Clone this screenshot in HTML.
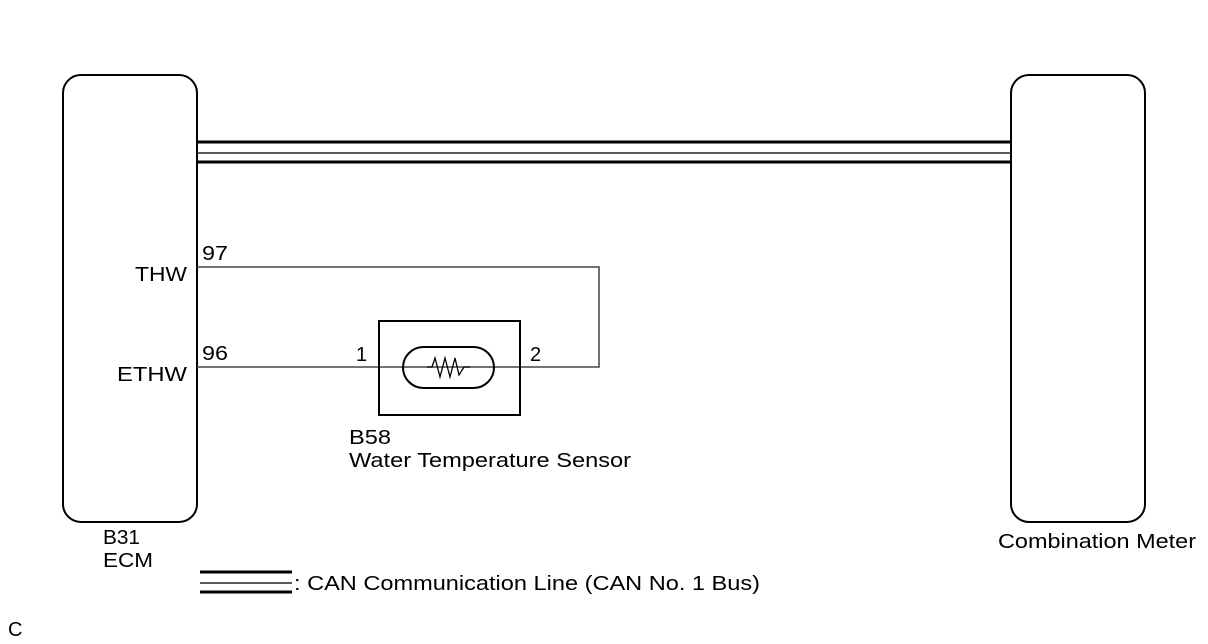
<!DOCTYPE html>
<html><head><style>
body{margin:0;background:#fff;}
svg{display:block;font-family:"Liberation Sans",sans-serif;}
</style></head><body>
<svg width="1208" height="644" viewBox="0 0 1208 644" xmlns="http://www.w3.org/2000/svg">
<rect x="63" y="75" width="134" height="447" rx="18" fill="none" stroke="#000" stroke-width="2"/>
<rect x="1011" y="75" width="134" height="447" rx="18" fill="none" stroke="#000" stroke-width="2"/>
<line x1="197" y1="142" x2="1011" y2="142" stroke="#000" stroke-width="3"/>
<line x1="197" y1="153" x2="1011" y2="153" stroke="#222" stroke-width="1.6"/>
<line x1="197" y1="162" x2="1011" y2="162" stroke="#000" stroke-width="3"/>
<polyline points="197,267 599,267 599,367 520,367" fill="none" stroke="#444" stroke-width="1.5"/>
<line x1="197" y1="367" x2="520" y2="367" stroke="#444" stroke-width="1.5"/>
<rect x="379" y="321" width="141" height="94" fill="none" stroke="#000" stroke-width="2"/>
<rect x="403" y="347" width="91" height="41" rx="20.5" fill="none" stroke="#000" stroke-width="2"/>
<polyline points="427,367 432,367 435,358 440,377 445,358 450,377 455,358 459,375 464,367 470,367" fill="none" stroke="#000" stroke-width="1.3"/>
<g font-size="20" fill="#000" lengthAdjust="spacingAndGlyphs">
<text x="202" y="260" textLength="26" lengthAdjust="spacingAndGlyphs">97</text>
<text x="202" y="360" textLength="26" lengthAdjust="spacingAndGlyphs">96</text>
<text x="135" y="281" textLength="52" lengthAdjust="spacingAndGlyphs">THW</text>
<text x="117" y="381" textLength="70" lengthAdjust="spacingAndGlyphs">ETHW</text>
<text x="356" y="361">1</text>
<text x="530" y="361">2</text>
<text x="349" y="444" textLength="42" lengthAdjust="spacingAndGlyphs">B58</text>
<text x="349" y="467" textLength="282" lengthAdjust="spacingAndGlyphs">Water Temperature Sensor</text>
<text x="103" y="544" textLength="37" lengthAdjust="spacingAndGlyphs">B31</text>
<text x="103" y="567" textLength="50" lengthAdjust="spacingAndGlyphs">ECM</text>
<text x="998" y="548" textLength="198" lengthAdjust="spacingAndGlyphs">Combination Meter</text>
<text x="294" y="590" textLength="466" lengthAdjust="spacingAndGlyphs">: CAN Communication Line (CAN No. 1 Bus)</text>
<text x="8" y="636">C</text>
</g>
<line x1="200" y1="572" x2="292" y2="572" stroke="#000" stroke-width="3"/>
<line x1="200" y1="583" x2="292" y2="583" stroke="#222" stroke-width="1.6"/>
<line x1="200" y1="592" x2="292" y2="592" stroke="#000" stroke-width="3"/>
</svg>
</body></html>
